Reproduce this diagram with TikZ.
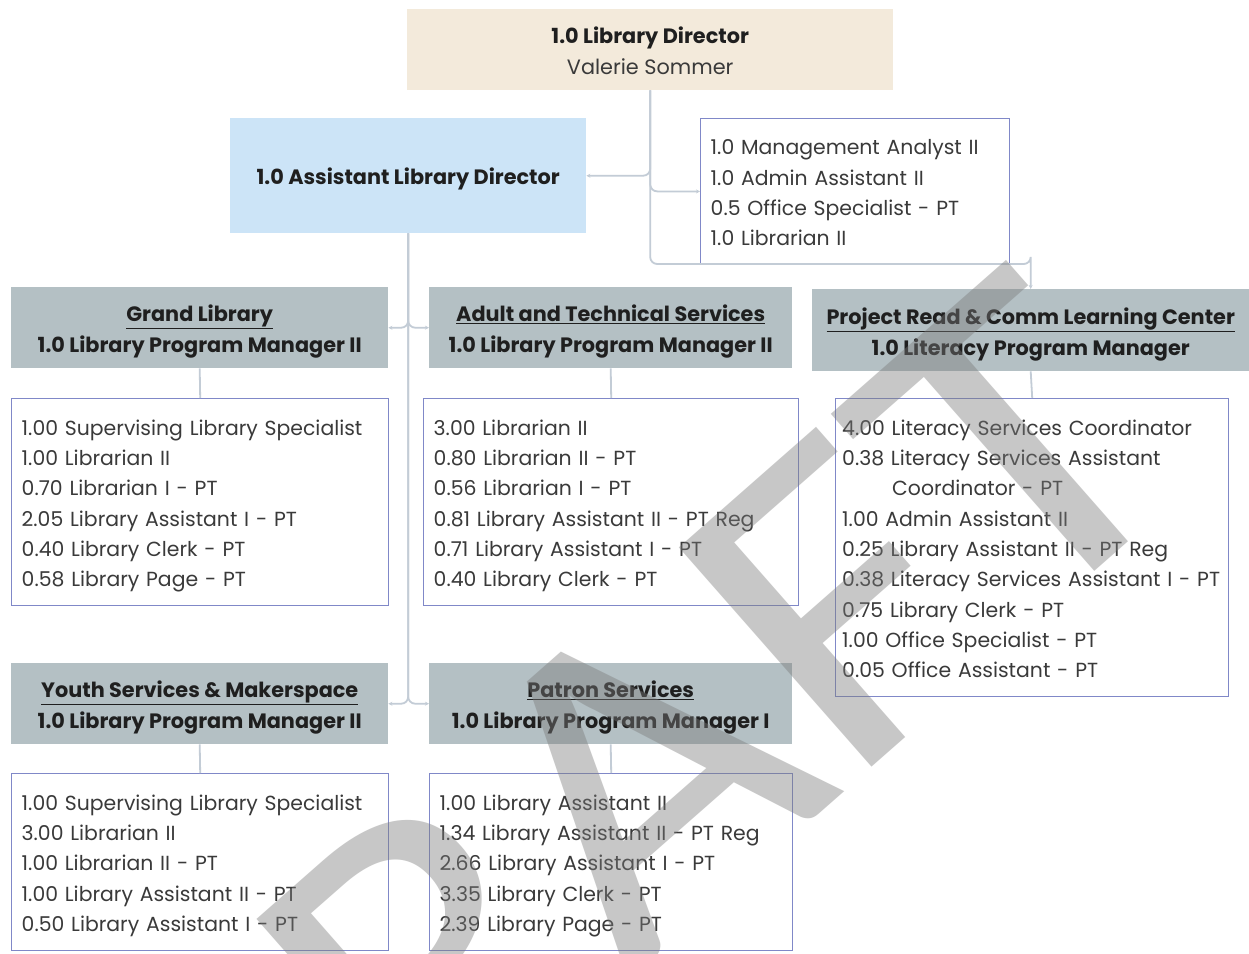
\documentclass[tikz,border=0pt]{standalone}
\usepackage{fontspec}
\setmainfont{Poppins}
\newfontfamily\wmfont{Carlito}
\usetikzlibrary{arrows.meta,calc}

\definecolor{hdrgray}{HTML}{B4C0C4}
\definecolor{listblue}{HTML}{8088C8}
\definecolor{dirbeige}{HTML}{F3EADB}
\definecolor{asstblue}{HTML}{CCE4F7}
\definecolor{connline}{HTML}{C3CCD6}
\definecolor{bodytext}{HTML}{3A3A3A}
\definecolor{wmgray}{HTML}{7A7A7A}

\newcommand\listfont{\fontsize{20.4}{30.3}\selectfont}
\newcommand\hdrfont{\fontsize{20.8}{31}\selectfont\bfseries}
% fixed first-line height and last-line depth, so every block sits alike
\newcommand\listtop{\rule{0pt}{36pt}}
\newcommand\listbot{\rule[-18.5pt]{0pt}{0pt}}
\newcommand\hdrtop{\rule{0pt}{34.5pt}}
\newcommand\hdrbot{\rule[-15.5pt]{0pt}{0pt}}

\begin{document}
\begin{tikzpicture}[x=1pt,y=-1pt,
  hdr/.style={fill=hdrgray, anchor=north west, inner sep=0pt, align=center,
              font=\hdrfont, text=black!88},
  staffbox/.style={draw=listblue, line width=1.4pt, fill=white, anchor=north west,
              inner xsep=10pt, inner ysep=0pt, align=left, font=\listfont, text=bodytext},
  conn/.style={draw=connline, line width=1.8pt, rounded corners=7pt},
  tip/.style={-{Stealth[length=4pt,width=4pt]}}
]
\fill[white] (0,0) rectangle (1249,953);
\useasboundingbox (0,0) rectangle (1249,953);

% top level
\node[fill=dirbeige, anchor=north west, minimum width=486pt, minimum height=81pt,
      inner sep=0pt, align=center, font=\hdrfont, text=black!88] (dir) at (407,9)
  {\hdrtop 1.0 Library Director\\{\mdseries\color{bodytext}Valerie Sommer}\hdrbot};
\node[fill=asstblue, anchor=north west, minimum width=356pt, minimum height=115pt,
      inner sep=0pt, text height=20pt, text depth=2pt, font=\hdrfont, text=black!88] (asst) at (230,118)
  {1.0 Assistant Library Director};
\node[staffbox, text width=289pt, minimum height=145pt] (staff) at (700,118)
  {\listtop 1.0 Management Analyst II\\1.0 Admin Assistant II\\0.5 Office Specialist - PT\\1.0 Librarian II\listbot};

% division heads
\node[hdr, minimum width=377pt, minimum height=81pt] (grand) at (11,287)
  {\hdrtop\underline{Grand Library}\\1.0 Library Program Manager II\hdrbot};
\node[hdr, minimum width=363pt, minimum height=81pt] (adult) at (429,287)
  {\hdrtop\underline{Adult and Technical Services}\\1.0 Library Program Manager II\hdrbot};
\node[hdr, minimum width=437pt, minimum height=82pt] (pread) at (812,289)
  {\hdrtop\underline{Project Read \& Comm Learning Center}\\1.0 Literacy Program Manager\hdrbot};
\node[hdr, minimum width=377pt, minimum height=81pt] (youth) at (11,663)
  {\hdrtop\underline{Youth Services \& Makerspace}\\1.0 Library Program Manager II\hdrbot};
\node[hdr, minimum width=363pt, minimum height=81pt] (patron) at (429,663)
  {\hdrtop\underline{Patron Services}\\1.0 Library Program Manager I\hdrbot};

% staff lists
\node[staffbox, text width=357pt, minimum height=207pt] (grandlist) at (11,398)
  {\listtop 1.00 Supervising Library Specialist\\1.00 Librarian II\\0.70 Librarian I - PT\\
   2.05 Library Assistant I - PT\\0.40 Library Clerk - PT\\0.58 Library Page - PT\listbot};
\node[staffbox, text width=355pt, minimum height=207pt] (adultlist) at (423,398)
  {\listtop 3.00 Librarian II\\0.80 Librarian II - PT\\0.56 Librarian I - PT\\
   0.81 Library Assistant II - PT Reg\\0.71 Library Assistant I - PT\\0.40 Library Clerk - PT\listbot};
\node[staffbox, inner xsep=6.5pt, text width=380pt, minimum height=298pt] (preadlist) at (835,398)
  {\listtop 4.00 Literacy Services Coordinator\\0.38 Literacy Services Assistant\\
   \hspace*{50pt}Coordinator - PT\\1.00 Admin Assistant II\\
   0.25 Library Assistant II - PT Reg\\0.38 Literacy Services Assistant I - PT\\
   0.75 Library Clerk - PT\\1.00 Office Specialist - PT\\0.05 Office Assistant - PT\listbot};
\node[staffbox, text width=357pt, minimum height=177pt] (youthlist) at (11,773)
  {\listtop 1.00 Supervising Library Specialist\\3.00 Librarian II\\1.00 Librarian II - PT\\
   1.00 Library Assistant II - PT\\0.50 Library Assistant I - PT\listbot};
\node[staffbox, text width=343pt, minimum height=177pt] (patronlist) at (429,773)
  {\listtop 1.00 Library Assistant II\\1.34 Library Assistant II - PT Reg\\2.66 Library Assistant I - PT\\
   3.35 Library Clerk - PT\\2.39 Library Page - PT\listbot};

% reporting lines
\draw[conn, tip] (dir.south) |- (asst.east);
\draw[conn, tip] (dir.south) |- (staff.west);
\draw[conn, tip] (dir.south) |- ($(pread.north)+(0,-25)$) -| (pread.north);
\draw[conn, tip] (asst.south) |- (grand.east);
\draw[conn, tip] (asst.south) |- (adult.west);
\draw[conn, tip] (asst.south) |- (youth.east);
\draw[conn, tip] (asst.south) |- (patron.west);
\draw[conn] (grand.south) -- (grandlist.north);
\draw[conn] (adult.south) -- (adultlist.north);
\draw[conn] (pread.south) -- (preadlist.north);
\draw[conn] (youth.south) -- (youthlist.north);
\draw[conn] (patron.south) -- (patronlist.north);

% watermark
\node[rotate=41.3, anchor=base, inner sep=0pt, text=wmgray, text opacity=0.42] (wm) at (697,921)
  {\scalebox{1.105}[1]{\wmfont\fontsize{455}{455}\selectfont DRAFT}};
\end{tikzpicture}
\end{document}
